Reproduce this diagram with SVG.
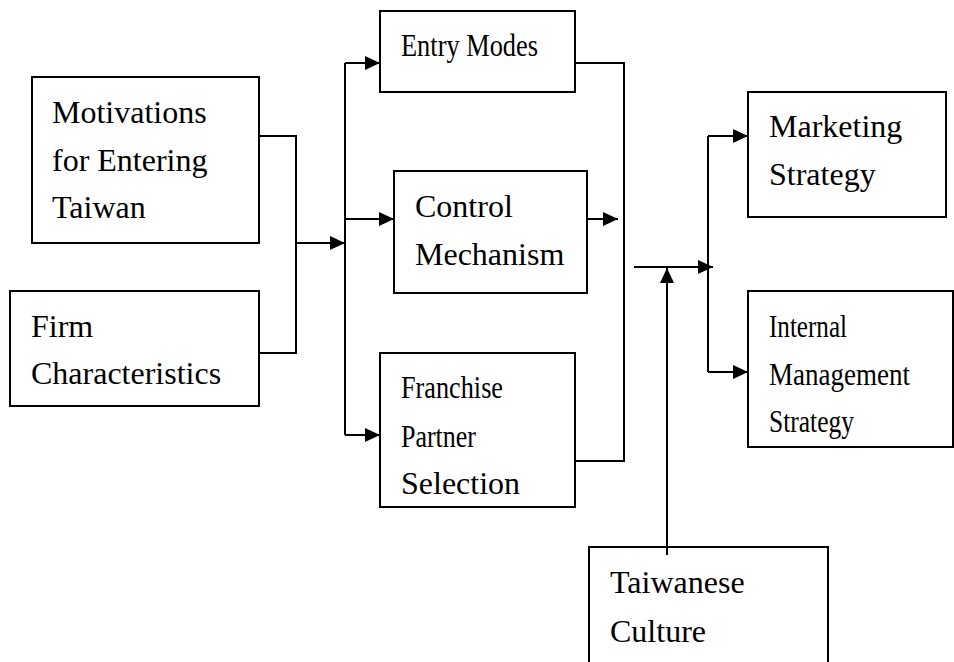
<svg xmlns="http://www.w3.org/2000/svg" width="954" height="662" viewBox="0 0 954 662">
<style>
.box{fill:#fff;stroke:#000;stroke-width:2}
.t{font-family:'Liberation Serif','Times New Roman',Times,'DejaVu Serif',serif;font-size:32px;fill:#000}
.c{fill:none;stroke:#000;stroke-width:2}
.a{fill:none;stroke:#000;stroke-width:2;marker-end:url(#ah)}
</style>
<defs>
<marker id="ah" viewBox="0 0 15 14" refX="15" refY="7" markerWidth="15" markerHeight="14" markerUnits="userSpaceOnUse" orient="auto">
<path d="M0,0 L15,7 L0,14 z" fill="#000"/>
</marker>
</defs>
<rect width="954" height="662" fill="#fff"/>
<g id="connectors">
<path class="c" d="M259,136 H296 V353 H259"/>
<path class="a" d="M296,243 H345"/>
<path class="c" d="M345,63 V435"/>
<path class="a" d="M345,63 H380"/>
<path class="a" d="M345,219 H394"/>
<path class="a" d="M345,435 H380"/>
<path class="c" d="M575,63 H624 V461 H575"/>
<path class="a" d="M587,219 H618"/>
<path class="a" d="M634,267 H713"/>
<path class="a" d="M667,555 V268"/>
<path class="c" d="M708,136 V372"/>
<path class="a" d="M708,136 H748"/>
<path class="a" d="M708,372 H748"/>
</g>
<g id="motivations">
<rect class="box" x="32" y="77" width="227" height="166"/>
<text class="t" font-family="Liberation Serif" x="52" y="123">Motivations</text>
<text class="t" font-family="Liberation Serif" x="52" y="171">for Entering</text>
<text class="t" font-family="Liberation Serif" x="52" y="218">Taiwan</text>
</g>
<g id="firm">
<rect class="box" x="10" y="291" width="249" height="115"/>
<text class="t" x="31" y="337">Firm</text>
<text class="t" x="31" y="384">Characteristics</text>
</g>
<g id="entry-modes">
<rect class="box" x="380" y="11" width="195" height="81"/>
<text class="t" x="401" y="56" textLength="137" lengthAdjust="spacingAndGlyphs">Entry Modes</text>
</g>
<g id="control">
<rect class="box" x="394" y="171" width="193" height="122"/>
<text class="t" x="415" y="217">Control</text>
<text class="t" x="415" y="265">Mechanism</text>
</g>
<g id="franchise">
<rect class="box" x="380" y="353" width="195" height="154"/>
<text class="t" x="401" y="398" textLength="102" lengthAdjust="spacingAndGlyphs">Franchise</text>
<text class="t" x="401" y="447" textLength="75" lengthAdjust="spacingAndGlyphs">Partner</text>
<text class="t" x="401" y="494">Selection</text>
</g>
<g id="marketing">
<rect class="box" x="748" y="92" width="198" height="125"/>
<text class="t" x="769" y="137">Marketing</text>
<text class="t" x="769" y="185">Strategy</text>
</g>
<g id="internal">
<rect class="box" x="748" y="291" width="205" height="156"/>
<text class="t" x="769" y="337" textLength="78" lengthAdjust="spacingAndGlyphs">Internal</text>
<text class="t" x="769" y="385" textLength="141" lengthAdjust="spacingAndGlyphs">Management</text>
<text class="t" x="769" y="432" textLength="85" lengthAdjust="spacingAndGlyphs">Strategy</text>
</g>
<g id="taiwanese-culture">
<rect class="box" x="589" y="547" width="239" height="125"/>
<text class="t" x="610" y="593">Taiwanese</text>
<text class="t" x="610" y="642">Culture</text>
</g>
<path class="c" d="M667,547 V555"/>
</svg>
